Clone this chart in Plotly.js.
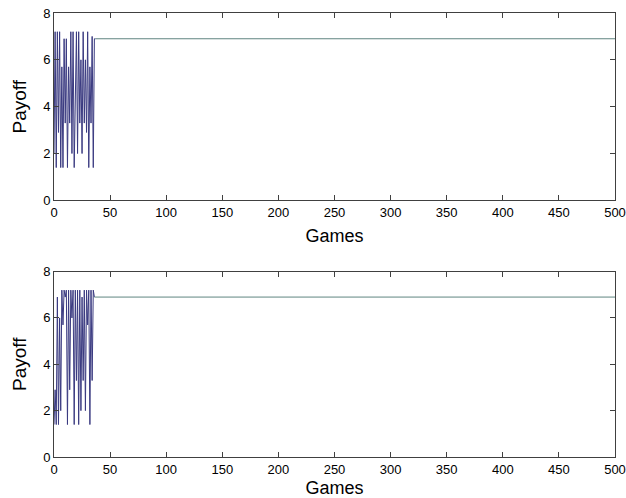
<!DOCTYPE html>
<html><head><meta charset="utf-8">
<script src="https://cdn.plot.ly/plotly-3.0.1.min.js"></script>
<style>html,body{margin:0;padding:0;background:#fff;}#chart{width:626px;height:498px;}</style>
</head><body><div id="chart"></div>
<script>
// Top panel: early games oscillation, then steady payoff
const topGames = [0,1,2,3,4,5,6,7,8,9,10,11,12,13,14,15,16,17,18,19,20,21,22,23,24,25,26,27,28,29,30,31,32,33,34,35,36,37];
const topPayoff = [2,7.2,1.4,7.2,2.9,7.2,1.4,5.7,1.4,6.9,3.3,6.9,1.4,5.7,3.3,7.2,2,7.2,1.4,4.3,7.2,2,7.2,3.3,6,2,7.2,3.3,6,2.9,7.2,1.4,5.7,3.3,7,1.4,6.9,6.9];
const topSteadyGames = [37, 500];
const topSteadyPayoff = [6.9, 6.9];

// Bottom panel
const botGames = [0,1,2,3,4,5,6,7,8,9,10,11,12,13,14,15,16,17,18,19,20,21,22,23,24,25,26,27,28,29,30,31,32,33,34,35,36];
const botPayoff = [1.4,2.9,1.4,6.9,1.4,6,2,7.2,5.7,7.2,6.9,7.2,1.4,7.2,2.9,7.2,6,7.2,1.4,7.2,3.3,7.2,1.4,7.2,2,6.9,3.3,7.2,2,7.2,5.7,7.2,1.4,7.2,3.3,7.2,6.9];
const botSteadyGames = [36, 500];
const botSteadyPayoff = [6.9, 6.9];

const xTicks = [0,50,100,150,200,250,300,350,400,450,500];
const yTicks = [0,2,4,6,8];

const lineColor = '#3a3a80';
const steadyColor = '#5f8580';

const traces = [
  {x: topGames, y: topPayoff, xaxis:'x', yaxis:'y', mode:'lines', line:{color:lineColor, width:1}},
  {x: topSteadyGames, y: topSteadyPayoff, xaxis:'x', yaxis:'y', mode:'lines', line:{color:steadyColor, width:1}},
  {x: botGames, y: botPayoff, xaxis:'x2', yaxis:'y2', mode:'lines', line:{color:lineColor, width:1}},
  {x: botSteadyGames, y: botSteadyPayoff, xaxis:'x2', yaxis:'y2', mode:'lines', line:{color:steadyColor, width:1}}
];

const font = {family:'Liberation Sans, Arial, sans-serif', size:13, color:'#000'};
function xax(anchor){
  return {anchor: anchor, range:[0,500], tickvals:xTicks, ticks:'inside', ticklen:5, tickcolor:'#404040',
    showline:true, linecolor:'#404040', linewidth:1, mirror:'ticks', showgrid:false, zeroline:false,
    tickfont:font, title:{text:'Games', font:{family:font.family, size:18, color:'#000'}, standoff:10}};
}
function yax(domain, anchor){
  return {domain: domain, anchor: anchor, range:[0,8], tickvals:yTicks, ticks:'inside', ticklen:5, tickcolor:'#404040',
    showline:true, linecolor:'#404040', linewidth:1, mirror:'ticks', showgrid:false, zeroline:false,
    tickfont:font, title:{text:'Payoff', font:{family:font.family, size:19, color:'#000'}, standoff:11}};
}
const layout = {
  width:626, height:498, showlegend:false,
  paper_bgcolor:'#fff', plot_bgcolor:'#fff',
  margin:{l:54, r:11, t:13, b:41},
  xaxis: xax('y'),
  yaxis: yax([0.578,1],'x'),
  xaxis2: xax('y2'),
  yaxis2: yax([0,0.4176],'x2')
};
Plotly.newPlot('chart', traces, layout, {staticPlot:true});
</script></body></html>
